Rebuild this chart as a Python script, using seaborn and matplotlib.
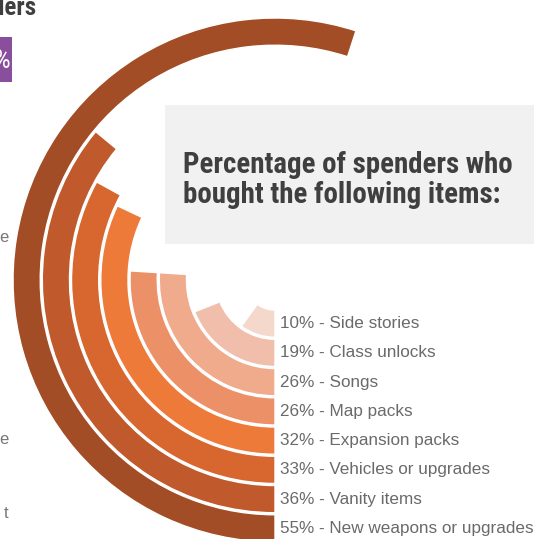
import numpy as np
import pandas as pd
import matplotlib
matplotlib.use("Agg")
import matplotlib.pyplot as plt
import seaborn as sns
from matplotlib.patches import Rectangle

# ---- data (inner ring -> outer ring) ----
categories = ["Side stories", "Class unlocks", "Songs", "Map packs",
              "Expansion packs", "Vehicles or upgrades", "Vanity items",
              "New weapons or upgrades"]
percentages = [10, 19, 26, 26, 32, 33, 36, 55]
ring_colors = ["#F5D8CC", "#F0BEAA", "#F0AA8C", "#EC9068",
               "#EE7A3A", "#D8662F", "#C0592B", "#A34D26"]
title_lines = ["Percentage of spenders who", "bought the following items:"]

sns.set_theme(style="white")

W, H = 534, 539
fig = plt.figure(figsize=(W / 100, H / 100), dpi=100)
fig.patch.set_facecolor("white")

TITLE_FONT = ["Roboto Condensed", "Liberation Sans"]
LABEL_FONT = ["Liberation Sans", "DejaVu Sans"]

# background overlay in pixel coordinates
bg = fig.add_axes([0, 0, 1, 1])
bg.set_xlim(0, W)
bg.set_ylim(H, 0)
bg.set_axis_off()

bg.add_patch(Rectangle((165, 105), W - 165, 139, facecolor="#F1F1F1",
                       edgecolor="none", zorder=0))
for yy, line in zip([173, 203], title_lines):
    bg.text(183, yy, line, fontfamily=TITLE_FONT, fontweight="bold",
            fontsize=20.8, color="#3F3F3F", va="baseline", ha="left")

# cropped fragments on the left edge
bg.text(36, 15, "spenders", fontfamily=TITLE_FONT, fontweight="bold",
        fontsize=18, color="#3F3F3F", va="baseline", ha="right")
bg.add_patch(Rectangle((0, 37), 12, 45, facecolor="#8A4F9C", edgecolor="none"))
bg.text(10, 68, "%", fontfamily=TITLE_FONT, fontsize=19,
        color="white", va="baseline", ha="right")
for yy, ch in [(242, "e"), (444, "e"), (518, "t")]:
    bg.text(8, yy, ch, fontfamily=LABEL_FONT, fontsize=12,
            color="#777777", va="baseline", ha="right")

# ---- polar axes: centre at pixel (275, 280), outer radius 263 px ----
cx, cy, R = 275, 280, 263
ax = fig.add_axes([(cx - R) / W, (H - cy - R) / H, 2 * R / W, 2 * R / H],
                  projection="polar")
ax.set_theta_zero_location("S")
ax.set_theta_direction(-1)

df = pd.DataFrame({
    "item": categories,
    "theta": np.array(percentages) / 100 * 2 * np.pi,
})
sns.barplot(data=df, x="theta", y="item", hue="item", palette=ring_colors,
            orient="h", width=0.93, saturation=1, errorbar=None,
            legend=False, ax=ax)

pitch = 29.25
r_origin = -(29.0 / pitch + 0.5)
ax.set_ylim(r_origin, r_origin + R / pitch)
ax.set_xlabel("")
ax.set_ylabel("")
ax.set_axis_off()

for i, (p, c) in enumerate(zip(percentages, categories)):
    ax.annotate(f"{p}% - {c}", xy=(0, i), xytext=(5, 0),
                textcoords="offset pixels", va="center", ha="left",
                fontfamily=LABEL_FONT, fontsize=12.3, color="#6A6A6A",
                annotation_clip=False)

fig.savefig("out.png", dpi=100)
